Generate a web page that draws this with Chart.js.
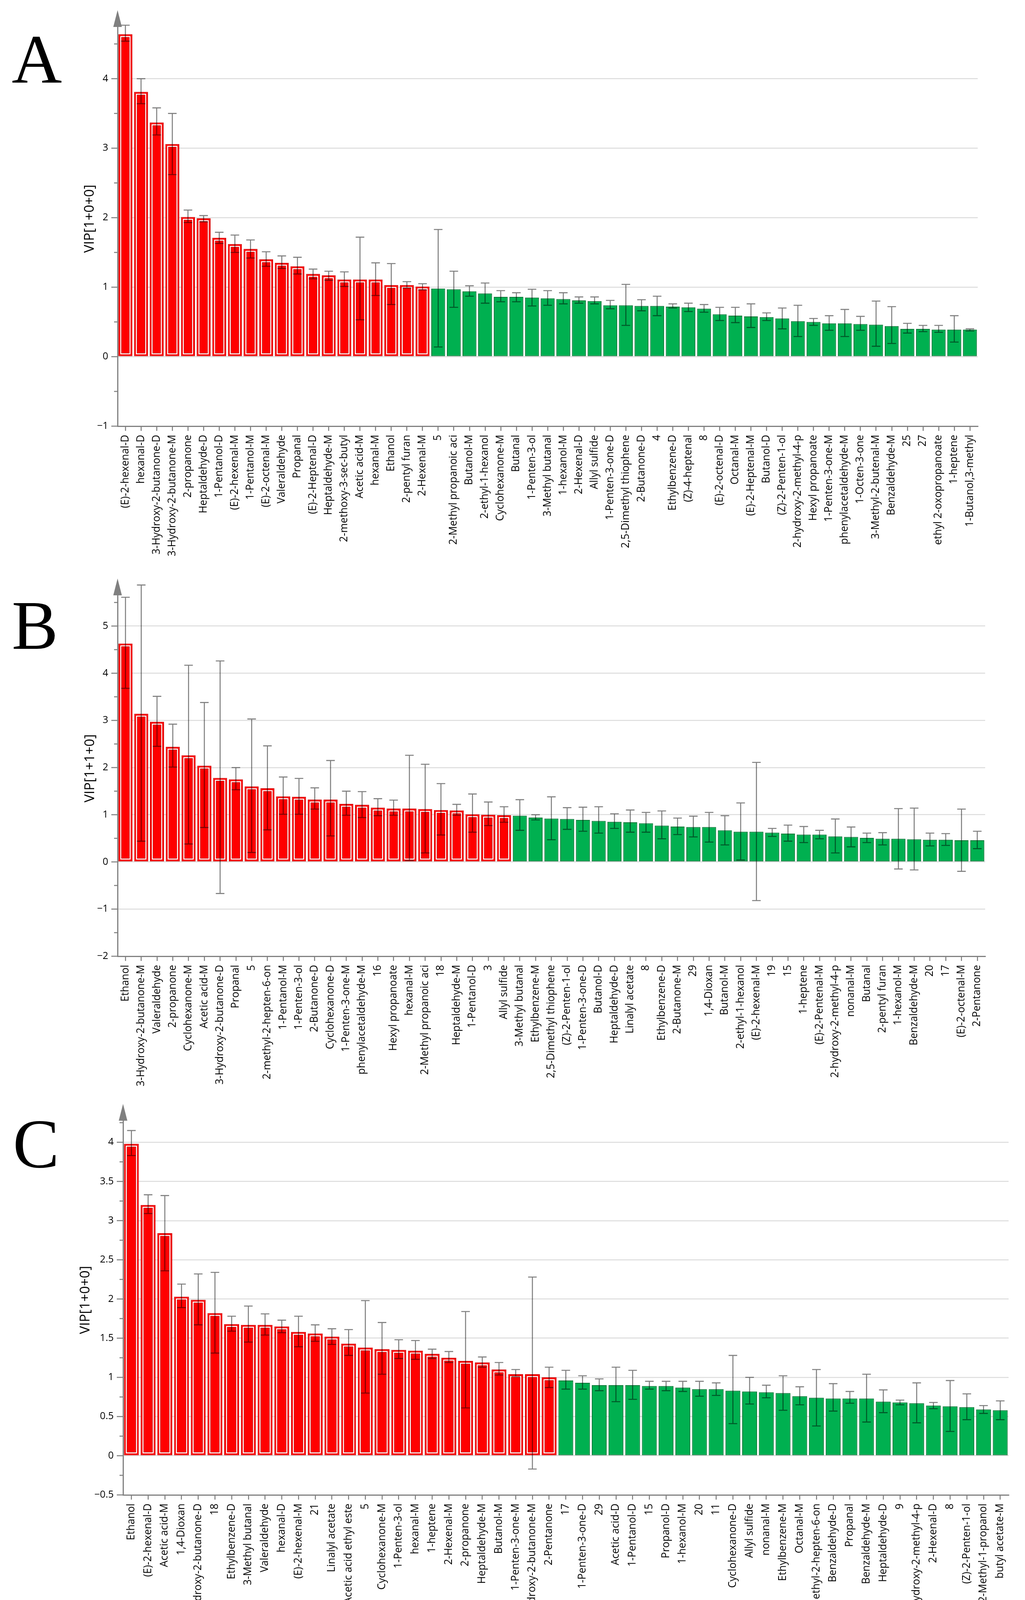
<!DOCTYPE html>
<html>
<head>
<meta charset="utf-8">
<script src="https://cdn.jsdelivr.net/npm/chart.js@4.4.1/dist/chart.umd.min.js"></script>
<style>
  body { margin: 0; background: #fff; }
  #page { position: relative; width: 2624px; height: 4201px; overflow: hidden; background: #fff; }
  #page canvas { position: absolute; left: 0; }
  .letter { position: absolute; font-family: 'Liberation Serif', 'Times New Roman', serif; font-size: 178px; line-height: 1; color: #000; }
</style>
</head>
<body>
<div id="page">
  <canvas id="chartA" width="2624" height="1520" style="top:0px"></canvas>
  <canvas id="chartB" width="2624" height="1440" style="top:1440px"></canvas>
  <canvas id="chartC" width="2624" height="1411" style="top:2790px"></canvas>
  <div class="letter" style="left:30px;top:63px">A</div>
  <div class="letter" style="left:30px;top:1512px">B</div>
  <div class="letter" style="left:33px;top:2839px">C</div>
</div>
<script>
// ---- panel A: VIP[1+0+0]
const labelsA = ['(E)-2-hexenal-D', 'hexanal-D', '3-Hydroxy-2-butanone-D', '3-Hydroxy-2-butanone-M', '2-propanone',
  'Heptaldehyde-D', '1-Pentanol-D', '(E)-2-hexenal-M', '1-Pentanol-M', '(E)-2-octenal-M', 'Valeraldehyde', 'Propanal',
  '(E)-2-Heptenal-D', 'Heptaldehyde-M', '2-methoxy-3-sec-butyl', 'Acetic acid-M', 'hexanal-M', 'Ethanol', '2-pentyl furan',
  '2-Hexenal-M', '5', '2-Methyl propanoic aci', 'Butanol-M', '2-ethyl-1-hexanol', 'Cyclohexanone-M', 'Butanal',
  '1-Penten-3-ol', '3-Methyl butanal', '1-hexanol-M', '2-Hexenal-D', 'Allyl sulfide', '1-Penten-3-one-D',
  '2,5-Dimethyl thiophene', '2-Butanone-D', '4', 'Ethylbenzene-D', '(Z)-4-heptenal', '8', '(E)-2-octenal-D', 'Octanal-M',
  '(E)-2-Heptenal-M', 'Butanol-D', '(Z)-2-Penten-1-ol', '2-hydroxy-2-methyl-4-p', 'Hexyl propanoate', '1-Penten-3-one-M',
  'phenylacetaldehyde-M', '1-Octen-3-one', '3-Methyl-2-butenal-M', 'Benzaldehyde-M', '25', '27', 'ethyl 2-oxopropanoate',
  '1-heptene', '1-Butanol,3-methyl']
const vipA = [4.64, 3.81, 3.37, 3.06, 2.01, 1.99, 1.71, 1.62, 1.55, 1.40, 1.35, 1.30, 1.19, 1.17, 1.11, 1.11, 1.11, 1.03, 1.03, 1.01,
  0.98, 0.97, 0.94, 0.91, 0.86, 0.86, 0.85, 0.84, 0.83, 0.81, 0.80, 0.74, 0.74, 0.73, 0.73, 0.72, 0.71, 0.69, 0.61, 0.59,
  0.58, 0.57, 0.55, 0.51, 0.50, 0.48, 0.48, 0.47, 0.46, 0.44, 0.40, 0.40, 0.39, 0.39, 0.39]
const lowA = [4.54, 3.64, 3.19, 2.62, 1.93, 1.94, 1.63, 1.50, 1.42, 1.30, 1.27, 1.19, 1.12, 1.10, 1.01, 0.53, 0.88, 0.75, 0.99, 0.96,
  0.14, 0.71, 0.87, 0.77, 0.79, 0.79, 0.73, 0.74, 0.76, 0.77, 0.76, 0.69, 0.45, 0.66, 0.59, 0.70, 0.65, 0.64, 0.52, 0.49,
  0.42, 0.52, 0.40, 0.29, 0.45, 0.38, 0.29, 0.38, 0.15, 0.19, 0.34, 0.36, 0.35, 0.21, 0.37]
const highA = [4.77, 4.00, 3.58, 3.50, 2.11, 2.03, 1.79, 1.75, 1.68, 1.51, 1.45, 1.43, 1.26, 1.23, 1.22, 1.72, 1.35, 1.34, 1.08, 1.05,
  1.83, 1.23, 1.02, 1.06, 0.95, 0.92, 0.97, 0.95, 0.92, 0.86, 0.86, 0.81, 1.04, 0.82, 0.87, 0.76, 0.77, 0.75, 0.71, 0.71,
  0.76, 0.63, 0.70, 0.74, 0.55, 0.59, 0.68, 0.58, 0.80, 0.72, 0.48, 0.45, 0.45, 0.59, 0.40]
const redCountA = 20

// ---- panel B: VIP[1+1+0]
const labelsB = ['Ethanol', '3-Hydroxy-2-butanone-M', 'Valeraldehyde', '2-propanone', 'Cyclohexanone-M', 'Acetic acid-M',
  '3-Hydroxy-2-butanone-D', 'Propanal', '5', '2-methyl-2-hepten-6-on', '1-Pentanol-M', '1-Penten-3-ol', '2-Butanone-D',
  'Cyclohexanone-D', '1-Penten-3-one-M', 'phenylacetaldehyde-M', '16', 'Hexyl propanoate', 'hexanal-M',
  '2-Methyl propanoic aci', '18', 'Heptaldehyde-M', '1-Pentanol-D', '3', 'Allyl sulfide', '3-Methyl butanal',
  'Ethylbenzene-M', '2,5-Dimethyl thiophene', '(Z)-2-Penten-1-ol', '1-Penten-3-one-D', 'Butanol-D', 'Heptaldehyde-D',
  'Linalyl acetate', '8', 'Ethylbenzene-D', '2-Butanone-M', '29', '1,4-Dioxan', 'Butanol-M', '2-ethyl-1-hexanol',
  '(E)-2-hexenal-M', '19', '15', '1-heptene', '(E)-2-Pentenal-M', '2-hydroxy-2-methyl-4-p', 'nonanal-M', 'Butanal',
  '2-pentyl furan', '1-hexanol-M', 'Benzaldehyde-M', '20', '17', '(E)-2-octenal-M', '2-Pentanone']
const vipB = [4.63, 3.14, 2.97, 2.44, 2.26, 2.04, 1.78, 1.75, 1.60, 1.56, 1.39, 1.38, 1.32, 1.32, 1.23, 1.21, 1.15, 1.13, 1.13, 1.12,
  1.10, 1.09, 1.01, 1.00, 0.99, 0.98, 0.94, 0.92, 0.91, 0.89, 0.87, 0.85, 0.84, 0.82, 0.77, 0.75, 0.74, 0.74, 0.67, 0.64,
  0.64, 0.62, 0.60, 0.58, 0.58, 0.54, 0.53, 0.51, 0.49, 0.49, 0.48, 0.47, 0.47, 0.46, 0.46]
const lowB = [3.68, 0.44, 2.45, 2.01, 0.38, 0.73, -0.67, 1.53, 0.20, 0.68, 1.01, 1.01, 1.12, 0.55, 0.99, 0.94, 0.98, 0.99, 0.03, 0.19,
  0.57, 0.99, 0.63, 0.77, 0.84, 0.67, 0.89, 0.47, 0.69, 0.65, 0.61, 0.71, 0.63, 0.63, 0.49, 0.58, 0.53, 0.42, 0.36, 0.04,
  -0.82, 0.54, 0.44, 0.41, 0.49, 0.19, 0.32, 0.41, 0.36, -0.15, -0.17, 0.34, 0.35, -0.20, 0.28]
const highB = [5.61, 5.87, 3.51, 2.92, 4.17, 3.38, 4.26, 2.00, 3.03, 2.46, 1.80, 1.77, 1.57, 2.15, 1.50, 1.49, 1.34, 1.31, 2.26, 2.07,
  1.66, 1.22, 1.44, 1.27, 1.17, 1.32, 1.00, 1.38, 1.15, 1.16, 1.17, 1.02, 1.10, 1.05, 1.08, 0.93, 0.97, 1.05, 0.98, 1.25,
  2.11, 0.71, 0.78, 0.75, 0.67, 0.91, 0.74, 0.61, 0.62, 1.13, 1.14, 0.61, 0.60, 1.12, 0.65]
const redCountB = 25

// ---- panel C: VIP[1+0+0]
const labelsC = ['Ethanol', '(E)-2-hexenal-D', 'Acetic acid-M', '1,4-Dioxan', '3-Hydroxy-2-butanone-D', '18', 'Ethylbenzene-D',
  '3-Methyl butanal', 'Valeraldehyde', 'hexanal-D', '(E)-2-hexenal-M', '21', 'Linalyl acetate', 'Acetic acid ethyl este',
  '5', 'Cyclohexanone-M', '1-Penten-3-ol', 'hexanal-M', '1-heptene', '2-Hexenal-M', '2-propanone', 'Heptaldehyde-M',
  'Butanol-M', '1-Penten-3-one-M', '3-Hydroxy-2-butanone-M', '2-Pentanone', '17', '1-Penten-3-one-D', '29',
  'Acetic acid-D', '1-Pentanol-D', '15', 'Propanol-D', '1-hexanol-M', '20', '11', 'Cyclohexanone-D', 'Allyl sulfide',
  'nonanal-M', 'Ethylbenzene-M', 'Octanal-M', '2-methyl-2-hepten-6-on', 'Benzaldehyde-D', 'Propanal', 'Benzaldehyde-M',
  'Heptaldehyde-D', '9', '2-hydroxy-2-methyl-4-p', '2-Hexenal-D', '8', '(Z)-2-Penten-1-ol', '2-Methyl-1-propanol',
  'butyl acetate-M']
const vipC = [3.98, 3.20, 2.84, 2.03, 1.99, 1.82, 1.68, 1.67, 1.67, 1.65, 1.58, 1.56, 1.52, 1.43, 1.38, 1.36, 1.35, 1.34, 1.30, 1.25,
  1.21, 1.19, 1.10, 1.04, 1.04, 1.00, 0.96, 0.93, 0.90, 0.90, 0.90, 0.89, 0.89, 0.87, 0.85, 0.85, 0.83, 0.82, 0.81, 0.80,
  0.76, 0.74, 0.73, 0.73, 0.73, 0.69, 0.68, 0.67, 0.64, 0.63, 0.62, 0.59, 0.58]
const lowC = [3.83, 3.09, 2.36, 1.89, 1.67, 1.31, 1.59, 1.45, 1.54, 1.57, 1.39, 1.46, 1.42, 1.28, 0.80, 1.04, 1.24, 1.23, 1.24, 1.19,
  0.61, 1.13, 1.03, 1.01, -0.17, 0.87, 0.85, 0.85, 0.83, 0.69, 0.72, 0.85, 0.83, 0.82, 0.76, 0.77, 0.41, 0.66, 0.74, 0.58,
  0.65, 0.38, 0.57, 0.67, 0.43, 0.55, 0.65, 0.42, 0.60, 0.31, 0.46, 0.54, 0.46]
const highC = [4.15, 3.33, 3.32, 2.19, 2.32, 2.34, 1.78, 1.91, 1.81, 1.73, 1.78, 1.67, 1.62, 1.61, 1.98, 1.70, 1.48, 1.47, 1.36, 1.33,
  1.84, 1.26, 1.19, 1.10, 2.28, 1.13, 1.09, 1.02, 0.98, 1.13, 1.09, 0.95, 0.95, 0.95, 0.95, 0.93, 1.28, 1.00, 0.90, 1.02,
  0.88, 1.10, 0.92, 0.82, 1.04, 0.84, 0.71, 0.93, 0.68, 0.96, 0.79, 0.64, 0.70]
const redCountC = 26

const RED = '#ff0000'
const GREEN = '#00b050'
const AXIS_GREY = '#808080'

Chart.defaults.font.family = "'Open Sans', 'Noto Sans', sans-serif"
Chart.defaults.color = '#000'

function isStep(v, step) {
  const r = v / step
  return Math.abs(r - Math.round(r)) < 1e-6
}

// white inner frame on red bars, then error bars, arrow, y ticks and y title
const vipDecor = {
  id: 'vipDecor',
  afterDatasetsDraw(chart, _args, opts) {
    const ctx = chart.ctx
    const meta = chart.getDatasetMeta(0)
    const yScale = chart.scales.y
    const area = chart.chartArea

    ctx.save()
    meta.data.forEach((bar, i) => {
      if (i >= opts.redCount) return
      const { x, y, base, width } = bar.getProps(['x', 'y', 'base', 'width'], true)
      const l = x - width / 2, r = x + width / 2
      ctx.strokeStyle = '#fff'
      ctx.lineWidth = 2.6
      ctx.strokeRect(l + 6, y + 6, r - l - 12, base - y - 12)
      ctx.strokeStyle = 'rgba(140,0,0,0.55)'
      ctx.lineWidth = 1.2
      ctx.strokeRect(l + 8, y + 8, r - l - 16, base - y - 16)
    })

    // error bars
    ctx.strokeStyle = 'rgba(0,0,0,0.5)'
    ctx.lineWidth = 2.6
    meta.data.forEach((bar, i) => {
      const x = bar.x
      const yLo = yScale.getPixelForValue(opts.low[i])
      const yHi = yScale.getPixelForValue(opts.high[i])
      ctx.beginPath()
      ctx.moveTo(x, yHi); ctx.lineTo(x, yLo)
      ctx.moveTo(x - 11, yHi); ctx.lineTo(x + 11, yHi)
      ctx.moveTo(x - 11, yLo); ctx.lineTo(x + 11, yLo)
      ctx.stroke()
    })

    // y tick marks (major long, minor short)
    ctx.strokeStyle = AXIS_GREY
    ctx.lineWidth = 2.6
    yScale.ticks.forEach((t, i) => {
      const py = yScale.getPixelForTick(i)
      const len = isStep(t.value, opts.majorStep) ? 16 : 9
      ctx.beginPath()
      ctx.moveTo(area.left - len, py); ctx.lineTo(area.left, py)
      ctx.stroke()
    })

    // arrow on top of the y axis
    ctx.fillStyle = AXIS_GREY
    ctx.beginPath()
    ctx.moveTo(area.left - 11, area.top + 1)
    ctx.lineTo(area.left + 11, area.top + 1)
    ctx.lineTo(area.left, area.top - 42)
    ctx.closePath()
    ctx.fill()

    // y axis title
    ctx.translate(opts.titleX, opts.titleY)
    ctx.rotate(-Math.PI / 2)
    ctx.fillStyle = '#000'
    ctx.font = "35px 'Open Sans', 'Noto Sans', sans-serif"
    ctx.textAlign = 'center'
    ctx.textBaseline = 'middle'
    ctx.fillText(opts.title, 0, 0)
    ctx.restore()
  }
}

function makeVipChart(id, p) {
  const fills = p.vip.map((_v, i) => i < p.redCount ? RED : GREEN)
  const borders = p.vip.map((_v, i) => i < p.redCount ? '#d80000' : '#0b7a38')

  return new Chart(document.getElementById(id), {
    type: 'bar',
    data: {
      labels: p.labels,
      datasets: [{
        data: p.vip,
        backgroundColor: fills,
        borderColor: borders,
        borderWidth: 2,
        borderSkipped: false,
        barPercentage: 0.89,
        categoryPercentage: 1,
      }]
    },
    options: {
      responsive: false,
      animation: false,
      devicePixelRatio: 1,
      layout: { padding: { top: p.top, right: p.right, left: 0, bottom: p.bottom } },
      plugins: {
        legend: { display: false },
        tooltip: { enabled: false },
        vipDecor: {
          redCount: p.redCount, low: p.low, high: p.high, majorStep: p.majorStep,
          title: p.title, titleX: p.titleX, titleY: p.titleY,
        },
      },
      scales: {
        x: {
          afterFit(scale) { scale.height = p.xHeight },
          grid: { drawOnChartArea: false, drawTicks: true, tickLength: 12, offset: false, color: AXIS_GREY, lineWidth: 2.6 },
          border: { color: AXIS_GREY, width: 3 },
          ticks: { autoSkip: false, minRotation: 90, maxRotation: 90, padding: 10, font: { size: 26.5 } },
        },
        y: {
          min: p.min,
          max: p.max,
          afterFit(scale) { scale.width = p.left },
          border: { color: AXIS_GREY, width: 3 },
          grid: {
            drawTicks: false,
            lineWidth: 2.6,
            color: (c) => isStep(c.tick.value, p.majorStep) ? '#dcdcdc' : 'rgba(0,0,0,0)',
          },
          ticks: {
            stepSize: p.minorStep,
            includeBounds: false,
            padding: 24,
            font: { size: 25 },
            callback(v) {
              if (!isStep(v, p.majorStep)) return ''
              const s = String(Math.round(Math.abs(v) * 100) / 100)
              return v < 0 ? '\u2212' + s : s
            },
          },
        },
      },
    },
    plugins: [vipDecor],
  })
}

makeVipChart('chartA', {
  labels: labelsA, vip: vipA, low: lowA, high: highA, redCount: redCountA,
  min: -1, max: 4.75, majorStep: 1, minorStep: 0.5,
  top: 68, left: 301, right: 121, bottom: 80, xHeight: 349,
  title: 'VIP[1+0+0]', titleX: 230, titleY: 560,
})

makeVipChart('chartB', {
  labels: labelsB, vip: vipB, low: lowB, high: highB, redCount: redCountB,
  min: -2, max: 5.66, majorStep: 1, minorStep: 0.5,
  top: 83, left: 301, right: 102, bottom: 90, xHeight: 342,
  title: 'VIP[1+1+0]', titleX: 231, titleY: 527,
})

makeVipChart('chartC', {
  labels: labelsC, vip: vipC, low: lowC, high: highC, redCount: redCountC,
  min: -0.5, max: 4.28, majorStep: 0.5, minorStep: 0.25,
  top: 78, left: 315, right: 42, bottom: 0, xHeight: 374,
  title: 'VIP[1+0+0]', titleX: 219, titleY: 538,
})
</script>
</body>
</html>
